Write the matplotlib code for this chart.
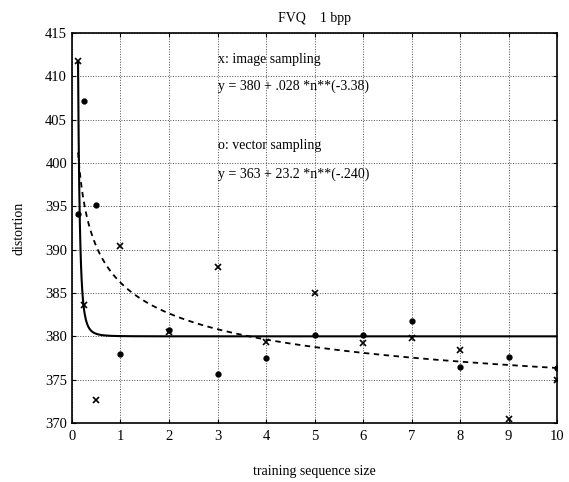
import numpy as np
import matplotlib
matplotlib.use("Agg")
import matplotlib.pyplot as plt

# Tamaño de secuencia de entrenamiento
n_vals = [0.125, 0.25, 0.5, 1, 2, 3, 4, 5, 6, 7, 8, 9, 10]
# x: muestreo de imagen
image_dist = [411.8, 383.6, 372.6, 390.4, 380.5, 388.0, 379.35, 385.0, 379.2, 379.8, 378.4, 370.5, 375.0]
# o: muestreo de vectores
vector_dist = [394.1, 407.1, 395.2, 378.0, 380.7, 375.7, 377.5, 380.2, 380.2, 381.8, 376.5, 377.6, 376.35]

# Coeficientes de los ajustes que aparecen en el gráfico
image_fit = (380, 0.028, -3.38)
vector_fit = (363, 23.2, -0.240)

plt.rcParams['font.family'] = ['Liberation Serif', 'DejaVu Serif']

fig = plt.figure(figsize=(5.69, 4.82), dpi=100)
ax = fig.add_axes([0.1265, 0.1224, 0.8525, 0.8091])

n = np.linspace(0.125, 10, 800)
a, b, c = image_fit
ax.plot(n, a + b * n ** c, color='black', lw=1.5)
a, b, c = vector_fit
ax.plot(n, a + b * n ** c, color='black', lw=1.3, ls=(0, (3, 2.5)))

ax.plot(n_vals, image_dist, 'x', color='black', ms=4, mew=1.2)
ax.plot(n_vals, vector_dist, 'o', color='black', ms=3.5)

ax.text(3.0, 412, "x: image sampling", fontsize=10, va='center')
ax.text(3.0, 408.8, "y = 380 + .028 *n**(-3.38)", fontsize=10, va='center')
ax.text(3.0, 402, "o: vector sampling", fontsize=10, va='center')
ax.text(3.0, 398.7, "y = 363 + 23.2 *n**(-.240)", fontsize=10, va='center')

ax.set_xlim(0, 10)
ax.set_ylim(370, 415)
ax.set_xticks(range(0, 11))
ax.set_yticks(range(370, 416, 5))
ax.tick_params(direction='in', top=True, right=True, labelsize=10.5, length=3)
ax.tick_params(axis='x', pad=5)
ax.grid(True, color='0.3', ls=':', lw=0.7)
for s in ax.spines.values():
    s.set_linewidth(1.2)

ax.set_title("FVQ    1 bpp", fontsize=10, pad=8)
ax.set_xlabel("training sequence size", fontsize=10, labelpad=16)
ax.set_ylabel("distortion", fontsize=10, labelpad=14)

fig.savefig("out.png", dpi=100)
